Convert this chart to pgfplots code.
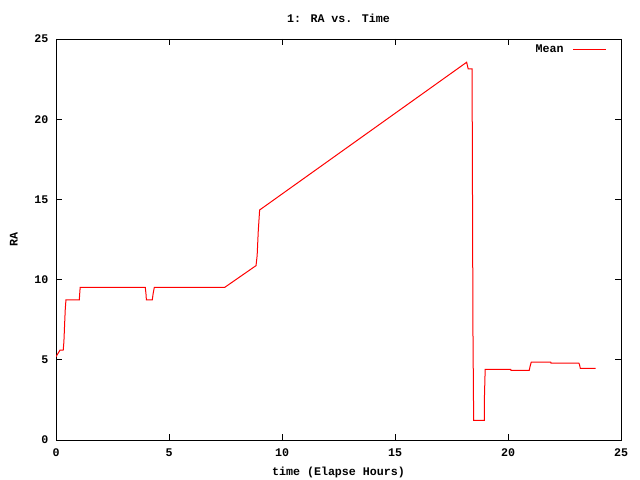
\documentclass[border=0pt]{standalone}
\usepackage{fontspec}
\setmainfont{Liberation Mono}
\usepackage{pgfplots}
\pgfplotsset{compat=1.18}
\begin{document}
\begin{tikzpicture}
\path[use as bounding box] (0,0) rectangle (640bp,480bp);
\begin{axis}[
  at={(56bp,40bp)}, anchor=south west,
  scale only axis, width=565bp, height=401bp,
  xmin=0, xmax=25, ymin=0, ymax=25,
  xtick={0,5,10,15,20,25}, ytick={0,5,10,15,20,25},
  tick align=inside, major tick length=6bp,
  minor tick num=0,
  axis line style={line width=0.8bp},
  every tick/.style={black, line width=0.8bp},
  font=\fontsize{11.7}{13}\selectfont\bfseries,
  /pgf/number format/assume math mode=true,
  xticklabel style={font=\fontsize{11.7}{13}\selectfont\bfseries, yshift=-5bp},
  yticklabel style={font=\fontsize{11.7}{13}\selectfont\bfseries, xshift=-4bp},
  title={1: RA vs. Time},
  title style={yshift=7bp},
  xlabel={time (Elapse Hours)},
  ylabel={RA},
  xlabel style={yshift=-4bp},
  ylabel style={yshift=10bp},
  legend style={draw=none, fill=none, at={(0.975,0.975)}, anchor=east,
    font=\fontsize{11.7}{13}\selectfont\bfseries, inner sep=0pt},
  legend plot pos=right,
  legend image code/.code={\draw[#1] (0bp,0bp) -- (33bp,0bp);},
]
\addplot[red, line width=1bp, mark=none] coordinates {
(0, 5.19)
(0.18, 5.61)
(0.32, 5.61)
(0.35, 6.13)
(0.38, 7.17)
(0.41, 8.15)
(0.44, 8.73)
(1.03, 8.73)
(1.05, 9.14)
(1.07, 9.52)
(3.95, 9.52)
(3.98, 9.14)
(4.0, 8.73)
(4.26, 8.73)
(4.30, 9.14)
(4.35, 9.52)
(7.47, 9.52)
(8.85, 10.87)
(8.90, 11.49)
(8.95, 13.03)
(9.01, 14.34)
(18.17, 23.55)
(18.24, 23.13)
(18.41, 23.13)
(18.45, 6.69)
(18.48, 1.23)
(18.95, 1.23)
(18.96, 2.8)
(18.99, 4.41)
(20.12, 4.41)
(20.13, 4.34)
(20.94, 4.34)
(20.98, 4.61)
(21.03, 4.86)
(21.89, 4.86)
(21.90, 4.80)
(23.13, 4.80)
(23.16, 4.72)
(23.20, 4.47)
(23.88, 4.47)
};
\addlegendentry{Mean\hspace*{7bp}}
\end{axis}
\end{tikzpicture}
\end{document}
